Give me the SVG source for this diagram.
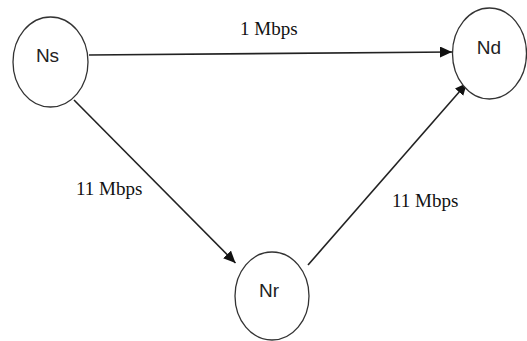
<svg xmlns="http://www.w3.org/2000/svg" width="527" height="341" viewBox="0 0 527 341">
<style>
.node{fill:#fff;stroke:#333;stroke-width:1.3}
.nl{font-family:"Liberation Sans",Arial,sans-serif;font-size:19px;fill:#222;text-anchor:middle}
.el{font-family:"Liberation Serif","Times New Roman",serif;font-size:19px;fill:#111}
.edge{stroke:#222;stroke-width:1.6;fill:none;marker-end:url(#arr)}
</style>
<defs>
<marker id="arr" markerUnits="userSpaceOnUse" markerWidth="13" markerHeight="12" refX="12" refY="5.5" orient="auto">
<path d="M0,0 L12,5.5 L0,11 z" fill="#111"/>
</marker>
</defs>
<rect width="527" height="341" fill="#fff"/>
<g id="connectors">
<line class="edge" x1="89" y1="55" x2="452" y2="52"/>
<line class="edge" x1="74" y1="100" x2="235.5" y2="263"/>
<line class="edge" x1="308" y1="265" x2="467" y2="83"/>
<text class="el" x="240" y="35">1 Mbps</text>
<text class="el" x="76" y="194.5">11 Mbps</text>
<text class="el" x="392" y="206.5">11 Mbps</text>
</g>
<g id="node-Ns">
<ellipse class="node" cx="50.5" cy="62" rx="37.5" ry="45"/>
<text class="nl" x="47.5" y="62">Ns</text>
</g>
<g id="node-Nd">
<ellipse class="node" cx="489.5" cy="53.5" rx="37" ry="45.5"/>
<text class="nl" x="489" y="54">Nd</text>
</g>
<g id="node-Nr">
<ellipse class="node" cx="272" cy="296" rx="37" ry="44"/>
<text class="nl" x="269" y="296.5">Nr</text>
</g>
</svg>
